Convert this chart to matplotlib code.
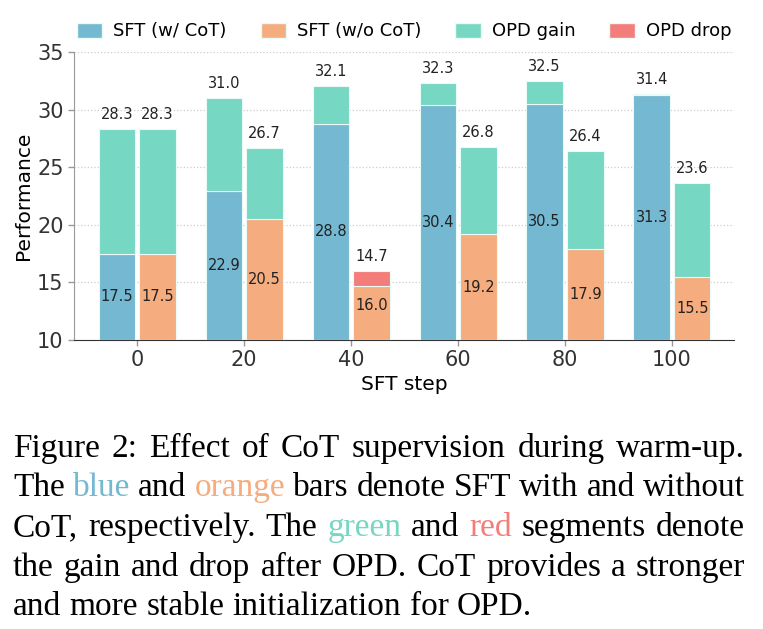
import matplotlib
matplotlib.use("Agg")
import matplotlib.pyplot as plt
from matplotlib.patches import Patch
import numpy as np

# ---------- data ----------
steps = ["0", "20", "40", "60", "80", "100"]
cot_sft = [17.5, 22.9, 28.8, 30.4, 30.5, 31.3]
cot_opd = [28.3, 31.0, 32.1, 32.3, 32.5, 31.4]
nocot_sft = [17.5, 20.5, 16.0, 19.2, 17.9, 15.5]
nocot_opd = [28.3, 26.7, 14.7, 26.8, 26.4, 23.6]

C_BLUE = "#74b8d2"
C_ORANGE = "#f5ac7e"
C_GREEN = "#76d7c3"
C_RED = "#f37d7a"
BASE = 10
# --------------------------

fig = plt.figure(figsize=(7.63, 6.29), dpi=100)
ax = fig.add_axes([0.097, 0.4595, 0.865, 0.4575])

x = np.arange(len(steps))
w = 0.34
off = 0.19
edge = dict(edgecolor="#eafaf6", linewidth=0.8, zorder=3)


def draw_pair(xpos, sft, opd, sft_color):
    for xi, s, o in zip(xpos, sft, opd):
        if o >= s:
            ax.bar(xi, s - BASE, w, bottom=BASE, color=sft_color, **edge)
            ax.bar(xi, o - s, w, bottom=s, color=C_GREEN, **edge)
            top = o
        else:
            ax.bar(xi, o - BASE, w, bottom=BASE, color=sft_color, **edge)
            ax.bar(xi, s - o, w, bottom=o, color=C_RED, **edge)
            top = s
        ax.text(xi, (BASE + s) / 2, f"{s:.1f}", ha="center", va="center",
                fontsize=10.5, color="#222222", zorder=4)
        ax.annotate(f"{o:.1f}", (xi, top), xytext=(0, 5), textcoords="offset points",
                    ha="center", va="bottom", fontsize=10.5, color="#222222", zorder=4)


draw_pair(x - off, cot_sft, cot_opd, C_BLUE)
draw_pair(x + off, nocot_sft, nocot_opd, C_ORANGE)

ax.set_xlim(-0.59, 5.58)
ax.set_ylim(10, 35)
ax.set_yticks([10, 15, 20, 25, 30, 35])
ax.set_xticks(x)
ax.set_xticklabels(steps)
ax.tick_params(axis="both", labelsize=15, colors="#333333", length=4, width=1)
ax.tick_params(axis="both", color="#999999")
ax.set_xlabel("SFT step", fontsize=14.5, labelpad=3)
ax.set_ylabel("Performance", fontsize=14.5, labelpad=3)
ax.grid(axis="y", linestyle=":", color="#cccccc", linewidth=0.9, zorder=0)
ax.set_axisbelow(True)
for s in ["top", "right"]:
    ax.spines[s].set_visible(False)
ax.spines["left"].set_color("#999999")
ax.spines["bottom"].set_color("#333333")

handles = [Patch(facecolor=C_BLUE, edgecolor="#eafaf6", label="SFT (w/ CoT)"),
           Patch(facecolor=C_ORANGE, edgecolor="#eafaf6", label="SFT (w/o CoT)"),
           Patch(facecolor=C_GREEN, edgecolor="#eafaf6", label="OPD gain"),
           Patch(facecolor=C_RED, edgecolor="#eafaf6", label="OPD drop")]
ax.legend(handles=handles, ncol=4, frameon=False, fontsize=13,
          loc="lower center", bbox_to_anchor=(0.5, 0.985),
          handlelength=1.4, handleheight=0.9, columnspacing=1.9, handletextpad=0.6)

# ---------- caption (justified, coloured words) ----------
caption = [
    [("Figure", None), ("2:", None), ("Effect", None), ("of", None), ("CoT", None),
     ("supervision", None), ("during", None), ("warm-up.", None)],
    [("The", None), ("blue", C_BLUE), ("and", None), ("orange", C_ORANGE), ("bars", None),
     ("denote", None), ("SFT", None), ("with", None), ("and", None), ("without", None)],
    [("CoT,", None), ("respectively.", None), ("The", None), ("green", C_GREEN), ("and", None),
     ("red", C_RED), ("segments", None), ("denote", None)],
    [("the", None), ("gain", None), ("and", None), ("drop", None), ("after", None),
     ("OPD.", None), ("CoT", None), ("provides", None), ("a", None), ("stronger", None)],
    [("and", None), ("more", None), ("stable", None), ("initialization", None),
     ("for", None), ("OPD.", None)],
]
cap_font = "Liberation Serif"
cap_size = 22
x_left, x_right = 13, 745
baselines = [457, 496, 536, 576, 615]

renderer = fig.canvas.get_renderer()


def width_px(s, size):
    t = fig.text(0, 0, s, fontsize=size, family=cap_font)
    wd = t.get_window_extent(renderer).width
    t.remove()
    return wd


# fit font size so the widest justified line fits naturally
sp = width_px("a a", cap_size) - width_px("aa", cap_size)
nat = []
for line in caption[:-1]:
    ws = [width_px(wd, cap_size) for wd, _ in line]
    nat.append(sum(ws) + sp * (len(ws) - 1))
cap_size = cap_size * (x_right - x_left) / max(nat)

sp = width_px("a a", cap_size) - width_px("aa", cap_size)
H = fig.bbox.height
for li, line in enumerate(caption):
    ws = [width_px(wd, cap_size) for wd, _ in line]
    if li < len(caption) - 1:
        gap = (x_right - x_left - sum(ws)) / (len(ws) - 1)
    else:
        gap = sp
    cx = x_left
    for (wd, col), wpx in zip(line, ws):
        fig.text(cx / fig.bbox.width, 1 - baselines[li] / H, wd, fontsize=cap_size,
                 family=cap_font, color=col if col else "black", va="baseline", ha="left")
        cx += wpx + gap

fig.savefig("out.png", dpi=100)
